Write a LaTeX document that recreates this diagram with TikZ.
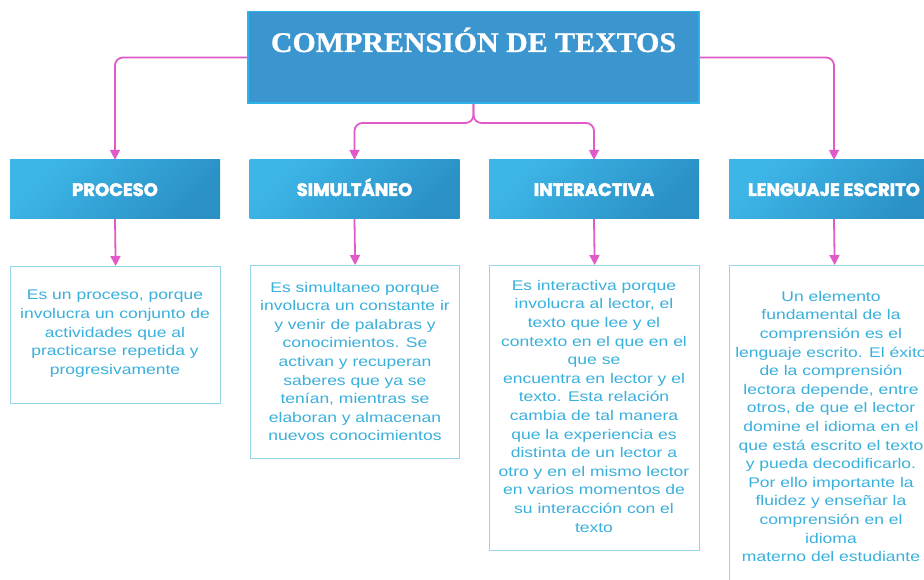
\documentclass[tikz,border=0pt]{standalone}
\usepackage{fontspec}
\setmainfont{Liberation Sans}
\newfontfamily\titlefont[FakeStretch=1.05,FakeBold=1]{Liberation Serif}
\newfontfamily\catfont[FakeBold=2.5]{Poppins}
\newfontfamily\descfont[FakeStretch=1.25]{Liberation Sans}
\usetikzlibrary{arrows.meta}
\definecolor{pinkc}{HTML}{E05BC8}
\definecolor{titlefill}{HTML}{3B95CF}
\definecolor{titleborder}{HTML}{2DB2EA}
\definecolor{catlight}{HTML}{3DB6E7}
\definecolor{catdark}{HTML}{2A90C6}
\definecolor{descborder}{HTML}{95D4EA}
\definecolor{desctext}{HTML}{3AB0DC}
\begin{document}
\begin{tikzpicture}[x=1pt,y=-1pt,
  conn/.style={draw=pinkc, line width=1.8pt, rounded corners=8pt},
  arr/.style={-{Triangle[width=10pt,length=10pt]}},
  titlebox/.style={rectangle, draw=titleborder, line width=1.5pt, fill=titlefill, inner sep=0pt, minimum width=451pt, minimum height=91.5pt},
  titletext/.style={inner sep=0pt, anchor=base, text=white, font=\titlefont\bfseries\fontsize{28.5}{32}\selectfont},
  catbox/.style={rectangle, inner sep=0pt, minimum width=210pt, minimum height=59pt, top color=catlight, bottom color=catdark, shading angle=45},
  cattext/.style={inner sep=0pt, text height=13pt, text depth=0pt, text=white, font=\catfont\bfseries\fontsize{18}{20}\selectfont},
  descbox/.style={rectangle, draw=descborder, line width=1.3pt, fill=white, inner sep=0pt, anchor=north west},
  desctext/.style={inner sep=0pt, anchor=north, align=center, text=desctext, font=\descfont\fontsize{14}{18.6}\selectfont},
]
\useasboundingbox (0,0) rectangle (924,580);
\clip (0,0) rectangle (924,580);
\fill[white] (0,0) rectangle (924,580);

% title
\node[titlebox] (title) at (473.5,57.5) {};
\node[titletext] (ttext) at (473.5,52) {COMPRENSIÓN DE TEXTOS};

% category boxes
\node[catbox] (c1) at (115,189.5) {};
\node[catbox] (c2) at (354.5,189.5) {};
\node[catbox] (c3) at (594,189.5) {};
\node[catbox] (c4) at (834,189.5) {};
\node[cattext] (k1) at (c1) {PROCESO};
\node[cattext] (k2) at (c2) {SIMULTÁNEO};
\node[cattext] (k3) at (c3) {INTERACTIVA};
\node[cattext] (k4) at (c4) {LENGUAJE ESCRITO};

% description boxes
\node[descbox, minimum width=210pt, minimum height=137pt] (d1) at (10,266) {};
\node[descbox, minimum width=209pt, minimum height=193pt] (d2) at (250,265) {};
\node[descbox, minimum width=210pt, minimum height=285pt] (d3) at (489,265) {};
\node[descbox, minimum width=210pt, minimum height=340pt] (d4) at (729,265) {};

\node[desctext] (t1) at (115,290) {Es un proceso, porque\\involucra un conjunto de\\actividades que al\\practicarse repetida y\\progresivamente};
\node[desctext] (t2) at (355,281.7) {Es simultaneo porque\\involucra un constante ir\\y venir de palabras y\\conocimientos. Se\\activan y recuperan\\saberes que ya se\\tenían, mientras se\\elaboran y almacenan\\nuevos conocimientos};
\node[desctext] (t3) at (594,280) {Es interactiva porque\\involucra al lector, el\\texto que lee y el\\contexto en el que en el\\que se\\encuentra en lector y el\\texto. Esta relación\\cambia de tal manera\\que la experiencia es\\distinta de un lector a\\otro y en el mismo lector\\en varios momentos de\\su interacción con el\\texto};
\node[desctext] (t4) at (831,291) {Un elemento\\fundamental de la\\comprensión es el\\lenguaje escrito. El éxito\\de la comprensión\\lectora depende, entre\\otros, de que el lector\\domine el idioma en el\\que está escrito el texto\\y pueda decodificarlo.\\Por ello importante la\\fluidez y enseñar la\\comprensión en el\\idioma\\materno del estudiante};

% connectors
\coordinate (bj) at (473.5,123);
\draw[conn,arr] (title.west) -| (c1.north);
\draw[conn,arr] (title.east) -| (c4.north);
\draw[conn,arr] (title.south) |- (c2.north |- bj) -- (c2.north);
\draw[conn,arr] (title.south) |- (c3.north |- bj) -- (c3.north);
\draw[conn,arr] (c1.south) -- (d1.north);
\draw[conn,arr] (c2.south) -- (d2.north);
\draw[conn,arr] (c3.south) -- (d3.north);
\draw[conn,arr] (c4.south) -- (d4.north);
\end{tikzpicture}
\end{document}
